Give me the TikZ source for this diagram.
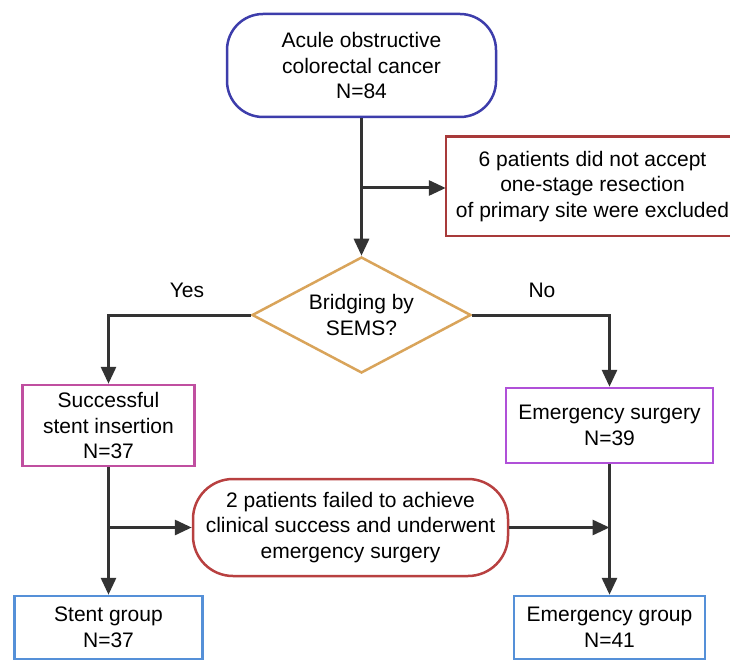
\documentclass[tikz,border=0pt]{standalone}
\usepackage{fontspec}
\setmainfont{Liberation Sans}
\usetikzlibrary{arrows.meta,shapes.geometric}
\definecolor{cline}{HTML}{333333}
\definecolor{cblue}{HTML}{3D3DAB}
\definecolor{cdred}{HTML}{A83A3A}
\definecolor{ctan}{HTML}{D9A45A}
\definecolor{cmag}{HTML}{C04FA0}
\definecolor{cpur}{HTML}{B050D8}
\definecolor{cred}{HTML}{B84040}
\definecolor{clblue}{HTML}{5590D8}
\tikzset{
  base/.style={line width=2.5pt, align=center, inner sep=0pt, font=\fontsize{21}{25.5}\selectfont, text=black},
  box/.style={base, rectangle, draw=#1},
  rbox/.style={base, rectangle, rounded corners=36pt, draw=#1},
  conn/.style={draw=cline, line width=3pt, -{Triangle[length=17pt,width=15pt]}},
  lbl/.style={font=\fontsize{21}{25.5}\selectfont, text=black, inner sep=0pt}
}
\begin{document}
\begin{tikzpicture}[x=1pt,y=-1pt]
\useasboundingbox (0,0) rectangle (730,660);
\fill[white] (0,0) rectangle (730,660);
\node[rbox=cblue, minimum width=269pt, minimum height=103pt] (top) at (361.5,65.5) {Acule obstructive\\colorectal cancer\\N=84};
\node[base, rectangle, minimum width=291pt, minimum height=97pt] (excl) at (592.5,186.5) {6 patients did not accept\\one-stage resection\\of primary site were excluded};
\draw[line width=2.5pt, draw=cdred] (excl.north west) rectangle ([xshift=40pt]excl.south east);
\node[base, shape=diamond, draw=ctan, aspect=1.89, minimum width=219pt, minimum height=116pt] (dia) at (361.5,315) {Bridging by\\SEMS?};
\node[box=cmag, minimum width=172pt, minimum height=81pt] (succ) at (108.5,425.5) {Successful\\stent insertion\\N=37};
\node[box=cpur, minimum width=207pt, minimum height=75pt] (emsurg) at (609.5,425.5) {Emergency surgery\\N=39};
\node[rbox=cred, minimum width=315pt, minimum height=97pt, rounded corners=40pt] (fail) at (350.5,527.5) {2 patients failed to achieve\\clinical success and underwent\\emergency surgery};
\node[box=clblue, minimum width=188pt, minimum height=63pt] (stent) at (108.5,627.5) {Stent group\\N=37};
\node[box=clblue, minimum width=191pt, minimum height=63pt] (emgroup) at (609.5,627.5) {Emergency group\\N=41};
\node[lbl] (yes) at (187,290) {Yes};
\node[lbl] (no) at (542,290) {No};
\coordinate (b1) at (361.5,188);
\coordinate (b2) at (108.5,527.5);
\draw[conn] (top.south) -- (dia.north);
\draw[conn] (b1) -- (b1 -| excl.west);
\draw[conn] (dia.west) -| (succ.north);
\draw[conn] (dia.east) -| (emsurg.north);
\draw[conn] (succ.south) -- (stent.north);
\draw[conn] (b2) -- (b2 -| fail.west);
\draw[conn] (emsurg.south) -- (emgroup.north);
\draw[conn] (fail.east) -- (fail.east -| emsurg.south);
\end{tikzpicture}
\end{document}
